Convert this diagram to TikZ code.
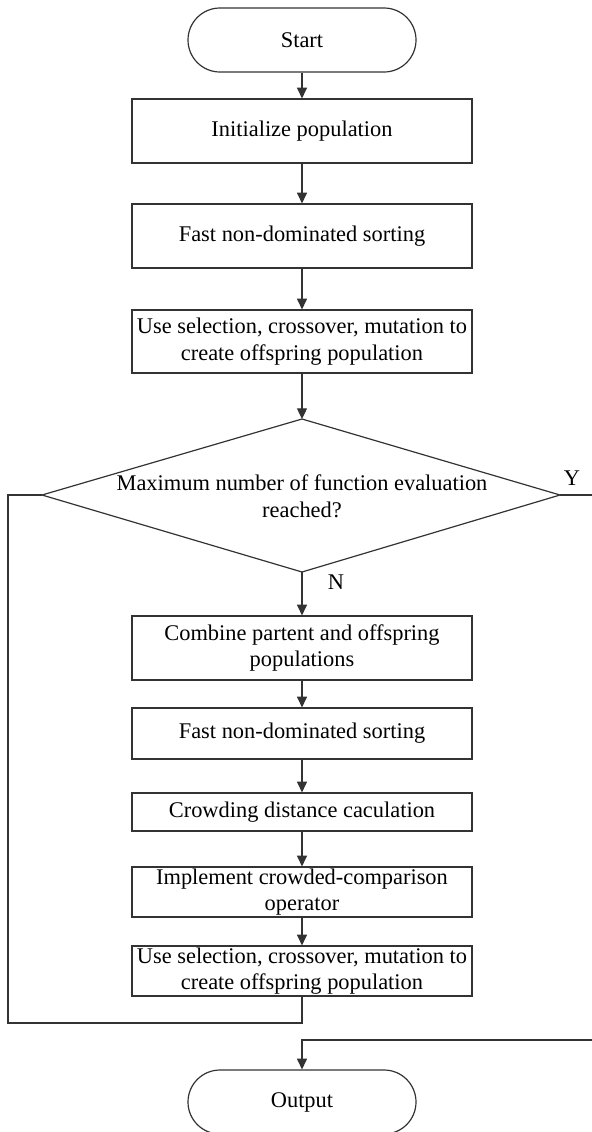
\documentclass[tikz,border=0pt]{standalone}
\usepackage{fontspec}
\setmainfont{Liberation Serif}
\usetikzlibrary{arrows.meta}
\begin{document}
\begin{tikzpicture}[x=0.75pt,y=-0.75pt,
  line width=0.9pt,
  lbl/.style={font=\fontsize{16.8}{20}\selectfont, text=black},
  box/.style={lbl, draw=black!80, rectangle, minimum width=255pt, minimum height=48pt, inner sep=0pt, align=center},
  term/.style={lbl, draw=black!80, rectangle, rounded corners=24pt, minimum width=171pt, minimum height=48pt, inner sep=0pt},
  conn/.style={draw=black!80},
  arr/.style={conn, -{Triangle[length=8pt,width=7.5pt]}}
]
\useasboundingbox (0,0) rectangle (592,1132);
\clip (0,0) rectangle (592,1132);

\node[term] (start) at (302,40) {Start};
\node[box] (init) at (302,131) {Initialize population};
\node[box] (fnds1) at (302,236) {Fast non-dominated sorting};
\node[box, minimum height=47.25pt] (sel1) at (302,341.5) {Use selection, crossover, mutation to\\create offspring population};

\coordinate (dT) at (302,419);
\coordinate (dB) at (302,572);
\coordinate (dL) at (42,495);
\coordinate (dR) at (560,495);
\draw[conn] (dT) -- (dR) -- (dB) -- (dL) -- cycle;
\node[lbl, align=center] (dtext) at (302,496) {Maximum number of function evaluation\\reached?};

\node[box] (comb) at (302,648) {Combine partent and offspring\\populations};
\node[box, minimum height=38.25pt] (fnds2) at (302,733.5) {Fast non-dominated sorting};
\node[box, minimum height=28.5pt] (crowd) at (302,812) {Crowding distance caculation};
\node[box, minimum height=37.5pt] (impl) at (302,892) {Implement crowded-comparison\\operator};
\node[box, minimum height=37.5pt] (sel2) at (302,971) {Use selection, crossover, mutation to\\create offspring population};

\node[term] (out) at (302,1102) {Output};

\node[lbl] (ylab) at (572,478) {Y};
\node[lbl] (nlab) at (336,582) {N};

\draw[arr] (start) -- (init);
\draw[arr] (init) -- (fnds1);
\draw[arr] (fnds1) -- (sel1);
\draw[arr] (sel1.south) -- (dT);
\draw[arr] (dB) -- (comb.north);
\draw[arr] (comb) -- (fnds2);
\draw[arr] (fnds2) -- (crowd);
\draw[arr] (crowd) -- (impl);
\draw[arr] (impl) -- (sel2);

\coordinate (lb) at (8,1023);
\draw[conn] (sel2.south) |- (lb) |- (dL);

\coordinate (yend) at (592,495);
\draw[conn] (dR) -- (yend);
\coordinate (ostart) at (592,1040);
\draw[arr] (ostart) -| (out.north);
\end{tikzpicture}
\end{document}
